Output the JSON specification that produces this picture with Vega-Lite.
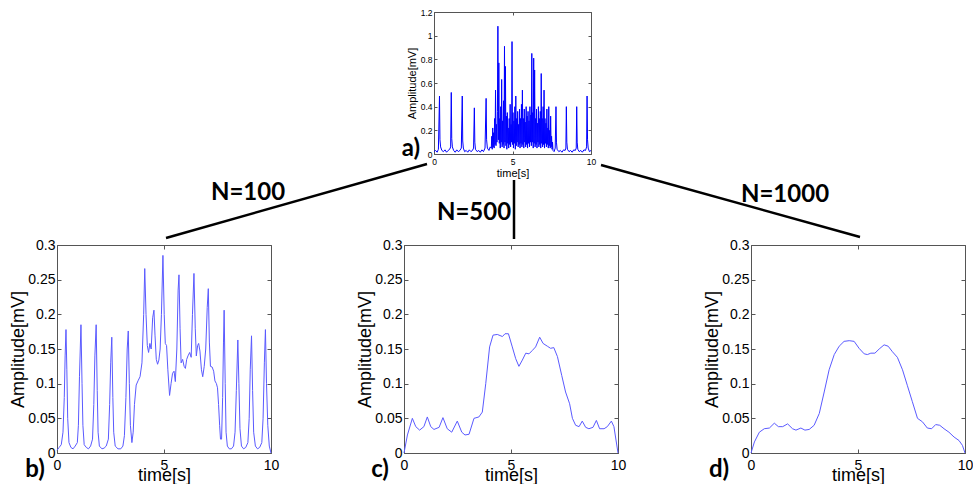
{
  "$schema": "https://vega.github.io/schema/vega-lite/v6.json",
  "autosize": {"type": "pad"},
  "padding": {"left": 9, "top": 8, "right": 0, "bottom": 0},
  "background": "white",
  "config": {
    "view": {"stroke": null},
    "axis": {
      "grid": false, "tickSize": -4, "tickColor": "#555", "domainColor": "#555", "domainWidth": 1, "tickWidth": 1,
      "labelFont": "Liberation Sans", "titleFont": "Liberation Sans", "titleFontWeight": "normal",
      "labelColor": "#000", "titleColor": "#000", "labelFlush": false, "labelOverlap": false,
      "labelFontSize": 14, "titleFontSize": 18
    }
  },
  "datasets": {
    "a": [
      {"t":0,"v":0.02},{"t":0.1,"v":0.03},{"t":0.2,"v":0.015},{"t":0.28,"v":0.04},{"t":0.35,"v":0.49},{"t":0.38,"v":0.12},{"t":0.42,"v":0.06},{"t":0.5,"v":0.03},{"t":0.6,"v":0.02},{"t":0.7,"v":0.035},{"t":0.8,"v":0.015},{"t":0.9,"v":0.03},{"t":1.0,"v":0.04},{"t":1.06,"v":0.06},{"t":1.1,"v":0.52},{"t":1.13,"v":0.13},{"t":1.17,"v":0.06},{"t":1.25,"v":0.03},{"t":1.35,"v":0.015},{"t":1.45,"v":0.035},{"t":1.55,"v":0.02},{"t":1.65,"v":0.03},{"t":1.74,"v":0.05},{"t":1.8,"v":0.49},{"t":1.83,"v":0.11},{"t":1.87,"v":0.05},{"t":1.95,"v":0.02},{"t":2.05,"v":0.03},{"t":2.15,"v":0.015},{"t":2.25,"v":0.035},{"t":2.35,"v":0.02},{"t":2.45,"v":0.03},{"t":2.52,"v":0.05},{"t":2.57,"v":0.39},{"t":2.6,"v":0.1},{"t":2.64,"v":0.04},{"t":2.75,"v":0.02},{"t":2.85,"v":0.03},{"t":2.95,"v":0.015},{"t":3.05,"v":0.035},{"t":3.15,"v":0.02},{"t":3.25,"v":0.05},{"t":3.32,"v":0.47},{"t":3.35,"v":0.12},{"t":3.4,"v":0.05},{"t":3.5,"v":0.03},{"t":3.58,"v":0.06},
      {"t":3.65,"v":0.05},{"t":3.68,"v":0.15},{"t":3.71,"v":0.04},{"t":3.74,"v":0.22},{"t":3.77,"v":0.06},{"t":3.8,"v":0.18},{"t":3.83,"v":0.05},{"t":3.86,"v":0.3},{"t":3.89,"v":0.08},{"t":3.92,"v":0.54},{"t":3.95,"v":0.07},{"t":3.98,"v":0.25},{"t":4.01,"v":0.1},{"t":4.04,"v":0.36},{"t":4.07,"v":1.08},{"t":4.1,"v":0.12},{"t":4.13,"v":0.77},{"t":4.16,"v":0.09},{"t":4.19,"v":0.3},{"t":4.22,"v":0.05},{"t":4.25,"v":0.4},{"t":4.28,"v":0.1},{"t":4.31,"v":0.63},{"t":4.34,"v":0.06},{"t":4.37,"v":0.28},{"t":4.4,"v":0.08},{"t":4.43,"v":0.45},{"t":4.46,"v":0.05},{"t":4.49,"v":0.91},{"t":4.52,"v":0.1},{"t":4.55,"v":0.74},{"t":4.58,"v":0.07},{"t":4.61,"v":0.32},{"t":4.64,"v":0.04},{"t":4.67,"v":0.35},{"t":4.7,"v":0.09},{"t":4.73,"v":0.22},{"t":4.76,"v":0.05},{"t":4.79,"v":0.3},{"t":4.82,"v":0.08},{"t":4.85,"v":0.42},{"t":4.88,"v":0.06},{"t":4.91,"v":0.25},{"t":4.94,"v":0.1},{"t":4.97,"v":0.95},{"t":5.0,"v":0.08},{"t":5.03,"v":0.35},{"t":5.06,"v":0.05},{"t":5.09,"v":0.28},{"t":5.12,"v":0.09},{"t":5.15,"v":0.4},{"t":5.18,"v":0.04},{"t":5.21,"v":0.49},{"t":5.24,"v":0.07},{"t":5.27,"v":0.3},{"t":5.3,"v":0.1},{"t":5.33,"v":0.36},{"t":5.36,"v":0.06},{"t":5.39,"v":0.25},{"t":5.42,"v":0.08},{"t":5.45,"v":0.38},{"t":5.48,"v":0.05},{"t":5.51,"v":0.3},{"t":5.54,"v":0.09},{"t":5.57,"v":0.42},{"t":5.6,"v":0.06},{"t":5.63,"v":0.54},{"t":5.66,"v":0.08},{"t":5.69,"v":0.3},{"t":5.72,"v":0.05},{"t":5.75,"v":0.38},{"t":5.78,"v":0.1},{"t":5.81,"v":0.27},{"t":5.84,"v":0.06},{"t":5.87,"v":0.4},{"t":5.9,"v":0.08},{"t":5.93,"v":0.32},{"t":5.96,"v":0.05},{"t":5.99,"v":0.36},{"t":6.02,"v":0.09},{"t":6.05,"v":0.28},{"t":6.08,"v":0.06},{"t":6.11,"v":0.4},{"t":6.14,"v":0.1},{"t":6.17,"v":0.33},{"t":6.2,"v":0.07},{"t":6.23,"v":0.85},{"t":6.26,"v":0.1},{"t":6.29,"v":0.35},{"t":6.32,"v":0.05},{"t":6.35,"v":0.81},{"t":6.38,"v":0.09},{"t":6.41,"v":0.71},{"t":6.44,"v":0.06},{"t":6.47,"v":0.3},{"t":6.5,"v":0.08},{"t":6.53,"v":0.38},{"t":6.56,"v":0.05},{"t":6.59,"v":0.26},{"t":6.62,"v":0.1},{"t":6.65,"v":0.4},{"t":6.68,"v":0.06},{"t":6.71,"v":0.3},{"t":6.74,"v":0.08},{"t":6.77,"v":0.36},{"t":6.8,"v":0.05},{"t":6.83,"v":0.68},{"t":6.86,"v":0.09},{"t":6.89,"v":0.3},{"t":6.92,"v":0.06},{"t":6.95,"v":0.4},{"t":6.98,"v":0.08},{"t":7.01,"v":0.54},{"t":7.04,"v":0.05},{"t":7.07,"v":0.3},{"t":7.1,"v":0.09},{"t":7.13,"v":0.26},{"t":7.16,"v":0.06},{"t":7.19,"v":0.38},{"t":7.22,"v":0.08},{"t":7.25,"v":0.22},{"t":7.28,"v":0.05},{"t":7.31,"v":0.4},{"t":7.34,"v":0.07},{"t":7.37,"v":0.2},{"t":7.4,"v":0.05},{"t":7.43,"v":0.32},{"t":7.46,"v":0.06},{"t":7.49,"v":0.15},{"t":7.52,"v":0.04},{"t":7.55,"v":0.1},{"t":7.58,"v":0.03},
      {"t":7.65,"v":0.02},{"t":7.72,"v":0.05},{"t":7.77,"v":0.4},{"t":7.8,"v":0.1},{"t":7.84,"v":0.04},{"t":7.95,"v":0.02},{"t":8.05,"v":0.03},{"t":8.15,"v":0.015},{"t":8.25,"v":0.035},{"t":8.35,"v":0.03},{"t":8.4,"v":0.05},{"t":8.43,"v":0.4},{"t":8.46,"v":0.1},{"t":8.5,"v":0.04},{"t":8.6,"v":0.02},{"t":8.7,"v":0.03},{"t":8.8,"v":0.015},{"t":8.9,"v":0.035},{"t":9.0,"v":0.03},{"t":9.06,"v":0.05},{"t":9.09,"v":0.4},{"t":9.12,"v":0.1},{"t":9.16,"v":0.04},{"t":9.25,"v":0.02},{"t":9.35,"v":0.03},{"t":9.45,"v":0.015},{"t":9.55,"v":0.035},{"t":9.65,"v":0.03},{"t":9.72,"v":0.06},{"t":9.75,"v":0.49},{"t":9.78,"v":0.12},{"t":9.82,"v":0.05},{"t":9.9,"v":0.02},{"t":10,"v":0.03}
    ],
    "b": [
      {"t":0,"v":0.004},{"t":0.1,"v":0.008},{"t":0.2,"v":0.012},{"t":0.28,"v":0.03},{"t":0.34,"v":0.08},{"t":0.38,"v":0.14},{"t":0.42,"v":0.178},{"t":0.46,"v":0.12},{"t":0.5,"v":0.05},{"t":0.56,"v":0.015},{"t":0.65,"v":0.008},{"t":0.75,"v":0.006},{"t":0.85,"v":0.01},{"t":0.95,"v":0.015},{"t":1.0,"v":0.04},{"t":1.05,"v":0.11},{"t":1.12,"v":0.185},{"t":1.17,"v":0.1},{"t":1.21,"v":0.04},{"t":1.27,"v":0.012},{"t":1.37,"v":0.008},{"t":1.47,"v":0.006},{"t":1.57,"v":0.01},{"t":1.66,"v":0.02},{"t":1.72,"v":0.07},{"t":1.77,"v":0.14},{"t":1.83,"v":0.185},{"t":1.88,"v":0.09},{"t":1.92,"v":0.03},{"t":1.98,"v":0.01},{"t":2.1,"v":0.006},{"t":2.2,"v":0.007},{"t":2.3,"v":0.01},{"t":2.4,"v":0.02},{"t":2.46,"v":0.07},{"t":2.51,"v":0.13},{"t":2.56,"v":0.167},{"t":2.61,"v":0.08},{"t":2.65,"v":0.03},{"t":2.72,"v":0.01},{"t":2.85,"v":0.006},{"t":2.98,"v":0.006},{"t":3.08,"v":0.01},{"t":3.15,"v":0.025},{"t":3.22,"v":0.08},{"t":3.28,"v":0.15},{"t":3.33,"v":0.176},{"t":3.38,"v":0.1},{"t":3.43,"v":0.04},{"t":3.5,"v":0.015},{"t":3.56,"v":0.03},{"t":3.62,"v":0.07},{"t":3.7,"v":0.098},{"t":3.8,"v":0.105},{"t":3.88,"v":0.11},{"t":3.97,"v":0.13},{"t":4.05,"v":0.2},{"t":4.1,"v":0.266},{"t":4.16,"v":0.2},{"t":4.22,"v":0.155},{"t":4.28,"v":0.145},{"t":4.34,"v":0.158},{"t":4.4,"v":0.15},{"t":4.47,"v":0.195},{"t":4.53,"v":0.206},{"t":4.58,"v":0.17},{"t":4.64,"v":0.135},{"t":4.7,"v":0.128},{"t":4.76,"v":0.134},{"t":4.82,"v":0.15},{"t":4.88,"v":0.2},{"t":4.95,"v":0.285},{"t":5.01,"v":0.2},{"t":5.06,"v":0.158},{"t":5.12,"v":0.155},{"t":5.18,"v":0.12},{"t":5.26,"v":0.083},{"t":5.33,"v":0.1},{"t":5.4,"v":0.115},{"t":5.47,"v":0.118},{"t":5.53,"v":0.103},{"t":5.6,"v":0.15},{"t":5.66,"v":0.235},{"t":5.7,"v":0.257},{"t":5.75,"v":0.18},{"t":5.8,"v":0.13},{"t":5.87,"v":0.135},{"t":5.94,"v":0.125},{"t":6.0,"v":0.122},{"t":6.06,"v":0.135},{"t":6.12,"v":0.14},{"t":6.2,"v":0.145},{"t":6.27,"v":0.138},{"t":6.33,"v":0.2},{"t":6.4,"v":0.259},{"t":6.46,"v":0.18},{"t":6.51,"v":0.14},{"t":6.57,"v":0.155},{"t":6.62,"v":0.158},{"t":6.68,"v":0.147},{"t":6.75,"v":0.12},{"t":6.81,"v":0.11},{"t":6.88,"v":0.125},{"t":6.95,"v":0.15},{"t":7.02,"v":0.21},{"t":7.07,"v":0.237},{"t":7.12,"v":0.16},{"t":7.17,"v":0.125},{"t":7.25,"v":0.124},{"t":7.32,"v":0.118},{"t":7.38,"v":0.104},{"t":7.45,"v":0.1},{"t":7.5,"v":0.094},{"t":7.55,"v":0.07},{"t":7.6,"v":0.04},{"t":7.64,"v":0.02},{"t":7.69,"v":0.02},{"t":7.74,"v":0.08},{"t":7.78,"v":0.16},{"t":7.81,"v":0.206},{"t":7.86,"v":0.1},{"t":7.9,"v":0.03},{"t":7.96,"v":0.01},{"t":8.05,"v":0.006},{"t":8.15,"v":0.006},{"t":8.25,"v":0.01},{"t":8.32,"v":0.03},{"t":8.38,"v":0.09},{"t":8.45,"v":0.163},{"t":8.5,"v":0.1},{"t":8.55,"v":0.035},{"t":8.62,"v":0.01},{"t":8.72,"v":0.006},{"t":8.82,"v":0.008},{"t":8.92,"v":0.015},{"t":8.98,"v":0.05},{"t":9.03,"v":0.12},{"t":9.09,"v":0.169},{"t":9.14,"v":0.09},{"t":9.19,"v":0.03},{"t":9.27,"v":0.01},{"t":9.37,"v":0.006},{"t":9.47,"v":0.008},{"t":9.57,"v":0.015},{"t":9.63,"v":0.05},{"t":9.69,"v":0.13},{"t":9.74,"v":0.178},{"t":9.79,"v":0.1},{"t":9.85,"v":0.04},{"t":9.92,"v":0.01},{"t":10,"v":0.0}
    ],
    "c": [
      {"t":0,"v":0},{"t":0.16,"v":0.026},{"t":0.39,"v":0.05},{"t":0.55,"v":0.038},{"t":0.73,"v":0.033},{"t":0.93,"v":0.038},{"t":1.09,"v":0.052},{"t":1.25,"v":0.038},{"t":1.4,"v":0.034},{"t":1.64,"v":0.037},{"t":1.82,"v":0.051},{"t":2.02,"v":0.035},{"t":2.23,"v":0.03},{"t":2.49,"v":0.046},{"t":2.7,"v":0.03},{"t":2.85,"v":0.026},{"t":3.04,"v":0.027},{"t":3.27,"v":0.05},{"t":3.5,"v":0.052},{"t":3.66,"v":0.059},{"t":3.82,"v":0.1},{"t":4.0,"v":0.153},{"t":4.16,"v":0.17},{"t":4.36,"v":0.171},{"t":4.6,"v":0.168},{"t":4.72,"v":0.172},{"t":4.88,"v":0.172},{"t":5.06,"v":0.153},{"t":5.22,"v":0.136},{"t":5.37,"v":0.125},{"t":5.53,"v":0.134},{"t":5.69,"v":0.144},{"t":5.84,"v":0.143},{"t":6.0,"v":0.148},{"t":6.15,"v":0.153},{"t":6.34,"v":0.167},{"t":6.5,"v":0.158},{"t":6.7,"v":0.154},{"t":6.85,"v":0.151},{"t":7.0,"v":0.152},{"t":7.17,"v":0.139},{"t":7.37,"v":0.112},{"t":7.55,"v":0.088},{"t":7.74,"v":0.071},{"t":7.87,"v":0.05},{"t":8.02,"v":0.04},{"t":8.18,"v":0.038},{"t":8.33,"v":0.046},{"t":8.49,"v":0.037},{"t":8.64,"v":0.035},{"t":8.83,"v":0.037},{"t":8.99,"v":0.047},{"t":9.14,"v":0.035},{"t":9.35,"v":0.035},{"t":9.5,"v":0.038},{"t":9.69,"v":0.046},{"t":9.81,"v":0.038},{"t":10,"v":0}
    ],
    "d": [
      {"t":0,"v":0},{"t":0.16,"v":0.016},{"t":0.39,"v":0.03},{"t":0.62,"v":0.035},{"t":0.86,"v":0.036},{"t":1.09,"v":0.043},{"t":1.28,"v":0.038},{"t":1.48,"v":0.038},{"t":1.71,"v":0.042},{"t":1.94,"v":0.035},{"t":2.1,"v":0.033},{"t":2.33,"v":0.036},{"t":2.52,"v":0.033},{"t":2.72,"v":0.034},{"t":2.95,"v":0.04},{"t":3.19,"v":0.057},{"t":3.42,"v":0.088},{"t":3.65,"v":0.12},{"t":3.89,"v":0.142},{"t":4.12,"v":0.154},{"t":4.35,"v":0.161},{"t":4.59,"v":0.162},{"t":4.82,"v":0.161},{"t":5.05,"v":0.151},{"t":5.29,"v":0.143},{"t":5.44,"v":0.142},{"t":5.6,"v":0.144},{"t":5.79,"v":0.144},{"t":5.99,"v":0.15},{"t":6.22,"v":0.156},{"t":6.41,"v":0.154},{"t":6.61,"v":0.146},{"t":6.84,"v":0.138},{"t":7.08,"v":0.12},{"t":7.31,"v":0.097},{"t":7.54,"v":0.074},{"t":7.78,"v":0.05},{"t":8.01,"v":0.045},{"t":8.24,"v":0.036},{"t":8.44,"v":0.035},{"t":8.63,"v":0.041},{"t":8.82,"v":0.04},{"t":9.02,"v":0.035},{"t":9.25,"v":0.03},{"t":9.49,"v":0.023},{"t":9.72,"v":0.018},{"t":9.88,"v":0.011},{"t":10,"v":0}
    ],
    "links": [
      {"x":429,"y":164,"x2":168,"y2":238},
      {"x":516,"y":180,"x2":516,"y2":239},
      {"x":603,"y":165,"x2":862,"y2":237}
    ],
    "labels": [
      {"x":250,"y":200,"text":"N=100"},
      {"x":476,"y":220,"text":"N=500"},
      {"x":787,"y":201.5,"text":"N=1000"},
      {"x":413,"y":156,"text":"a)"},
      {"x":37,"y":477,"text":"b)"},
      {"x":382,"y":477,"text":"c)"},
      {"x":721,"y":477,"text":"d)"}
    ]
  },
  "concat": [
    {"width": 214, "height": 142, "data": {"values": []}, "mark": "point", "encoding": {}},
    {
      "width": 187, "height": 142,
      "data": {"name": "a"},
      "layer": [
        {
          "mark": {"type": "line", "color": "#0000ff", "strokeWidth": 1},
          "encoding": {
            "x": {"field": "t", "type": "quantitative", "scale": {"domain": [0, 10], "range": [30, 187], "nice": false, "zero": false},
              "axis": {"orient": "bottom", "values": [0, 5, 10], "title": "time[s]", "labelFontSize": 8.5, "titleFontSize": 11, "tickSize": -3, "labelPadding": 6, "titleY": 22, "titleBaseline": "alphabetic"}},
            "y": {"field": "v", "type": "quantitative", "scale": {"domain": [0, 1.2], "nice": false},
              "axis": {"orient": "left", "offset": -30, "values": [0, 0.2, 0.4, 0.6, 0.8, 1, 1.2], "format": "~g", "title": "Amplitude[mV]", "labelFontSize": 8.5, "titleFontSize": 11, "tickSize": -3, "labelPadding": 5, "titleX": -19, "titleBaseline": "alphabetic"}}
          }
        },
        {
          "mark": {"type": "line", "opacity": 0},
          "encoding": {
            "x": {"field": "t", "type": "quantitative", "axis": {"orient": "top", "values": [0, 5, 10], "labels": false, "title": null, "tickSize": -3}},
            "y": {"field": "v", "type": "quantitative", "axis": {"orient": "right", "values": [0, 0.2, 0.4, 0.6, 0.8, 1, 1.2], "labels": false, "title": null, "tickSize": -3}}
          }
        }
      ],
      "resolve": {"axis": {"x": "independent", "y": "independent"}}
    },
    {"width": 214, "height": 142, "data": {"values": []}, "mark": "point", "encoding": {}},
    {
      "width": 214, "height": 91,
      "layer": [
        {
          "data": {"name": "links"},
          "mark": {"type": "rule", "color": "#000", "strokeWidth": 2.5},
          "encoding": {
            "x": {"field": "x", "type": "quantitative", "scale": {"domain": [59, 273], "nice": false, "zero": false}, "axis": null},
            "y": {"field": "y", "type": "quantitative", "scale": {"domain": [154, 245], "nice": false, "zero": false, "reverse": true}, "axis": null},
            "x2": {"field": "x2"},
            "y2": {"field": "y2"}
          }
        },
        {
          "data": {"name": "labels"},
          "mark": {"type": "text", "font": "Lato", "fontWeight": "bold", "fontSize": 24, "align": "center", "baseline": "alphabetic", "color": "#000"},
          "encoding": {
            "x": {"field": "x", "type": "quantitative", "axis": null},
            "y": {"field": "y", "type": "quantitative", "axis": null},
            "text": {"field": "text"}
          }
        }
      ]
    },
    {"width": 214, "height": 91, "data": {"values": []}, "mark": "point", "encoding": {}},
    {"width": 214, "height": 91, "data": {"values": []}, "mark": "point", "encoding": {}},
    {
      "width": 214, "height": 208,
      "data": {"name": "b"},
      "layer": [
        {
          "mark": {"type": "line", "color": "#5a5aff", "strokeWidth": 1},
          "encoding": {
            "x": {"field": "t", "type": "quantitative", "scale": {"domain": [0, 10], "nice": false, "zero": false},
              "axis": {"orient": "bottom", "values": [0, 5, 10], "title": "time[s]", "labelPadding": 9, "titleY": 27, "titleBaseline": "alphabetic"}},
            "y": {"field": "v", "type": "quantitative", "scale": {"domain": [0, 0.3], "nice": false},
              "axis": {"orient": "left", "values": [0, 0.05, 0.1, 0.15, 0.2, 0.25, 0.3], "format": "~g", "title": "Amplitude[mV]", "labelPadding": 6, "titleX": -33.5, "titleBaseline": "alphabetic"}}
          }
        },
        {
          "mark": {"type": "line", "opacity": 0},
          "encoding": {
            "x": {"field": "t", "type": "quantitative", "axis": {"orient": "top", "values": [0, 5, 10], "labels": false, "title": null}},
            "y": {"field": "v", "type": "quantitative", "axis": {"orient": "right", "values": [0, 0.05, 0.1, 0.15, 0.2, 0.25, 0.3], "labels": false, "title": null}}
          }
        }
      ],
      "resolve": {"axis": {"x": "independent", "y": "independent"}}
    },
    {
      "width": 214, "height": 208,
      "data": {"name": "c"},
      "layer": [
        {
          "mark": {"type": "line", "color": "#5a5aff", "strokeWidth": 1},
          "encoding": {
            "x": {"field": "t", "type": "quantitative", "scale": {"domain": [0, 10], "nice": false, "zero": false},
              "axis": {"orient": "bottom", "values": [0, 5, 10], "title": "time[s]", "labelPadding": 9, "titleY": 27, "titleBaseline": "alphabetic"}},
            "y": {"field": "v", "type": "quantitative", "scale": {"domain": [0, 0.3], "nice": false},
              "axis": {"orient": "left", "values": [0, 0.05, 0.1, 0.15, 0.2, 0.25, 0.3], "format": "~g", "title": "Amplitude[mV]", "labelPadding": 6, "titleX": -33.5, "titleBaseline": "alphabetic"}}
          }
        },
        {
          "mark": {"type": "line", "opacity": 0},
          "encoding": {
            "x": {"field": "t", "type": "quantitative", "axis": {"orient": "top", "values": [0, 5, 10], "labels": false, "title": null}},
            "y": {"field": "v", "type": "quantitative", "axis": {"orient": "right", "values": [0, 0.05, 0.1, 0.15, 0.2, 0.25, 0.3], "labels": false, "title": null}}
          }
        }
      ],
      "resolve": {"axis": {"x": "independent", "y": "independent"}}
    },
    {
      "width": 214, "height": 208,
      "data": {"name": "d"},
      "layer": [
        {
          "mark": {"type": "line", "color": "#5a5aff", "strokeWidth": 1},
          "encoding": {
            "x": {"field": "t", "type": "quantitative", "scale": {"domain": [0, 10], "nice": false, "zero": false},
              "axis": {"orient": "bottom", "values": [0, 5, 10], "title": "time[s]", "labelPadding": 9, "titleY": 27, "titleBaseline": "alphabetic"}},
            "y": {"field": "v", "type": "quantitative", "scale": {"domain": [0, 0.3], "nice": false},
              "axis": {"orient": "left", "values": [0, 0.05, 0.1, 0.15, 0.2, 0.25, 0.3], "format": "~g", "title": "Amplitude[mV]", "labelPadding": 6, "titleX": -33.5, "titleBaseline": "alphabetic"}}
          }
        },
        {
          "mark": {"type": "line", "opacity": 0},
          "encoding": {
            "x": {"field": "t", "type": "quantitative", "axis": {"orient": "top", "values": [0, 5, 10], "labels": false, "title": null}},
            "y": {"field": "v", "type": "quantitative", "axis": {"orient": "right", "values": [0, 0.05, 0.1, 0.15, 0.2, 0.25, 0.3], "labels": false, "title": null}}
          }
        }
      ],
      "resolve": {"axis": {"x": "independent", "y": "independent"}}
    }
  ],
  "columns": 3,
  "align": "each",
  "spacing": {"row": 0, "column": 133},
  "bounds": "flush"
}
